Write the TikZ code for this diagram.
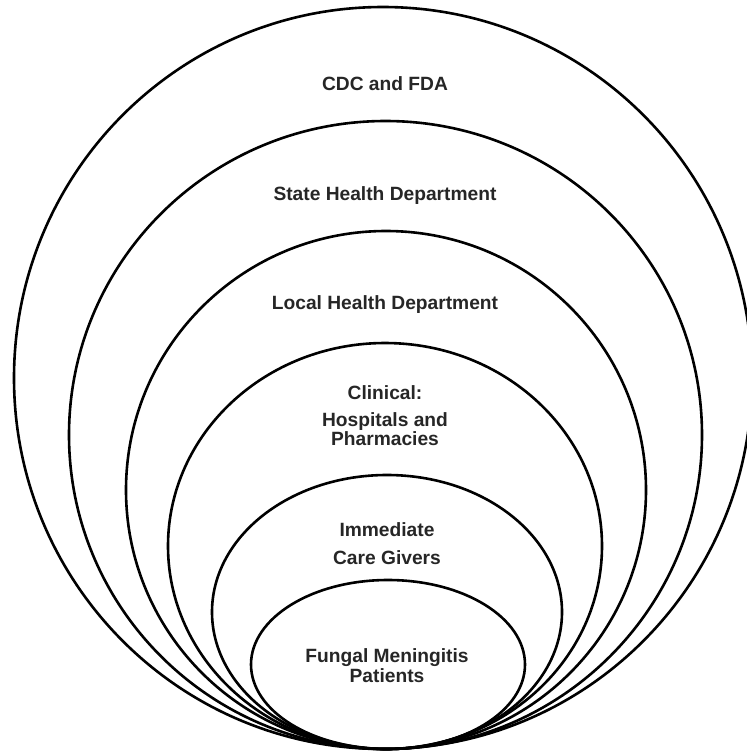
\documentclass[tikz,border=0pt]{standalone}
\usepackage{fontspec}
\setmainfont{Liberation Sans}
\begin{document}
\begin{tikzpicture}[x=1pt,y=-1pt,
  ring/.style={draw=black,line width=2.6pt},
  lbl/.style={anchor=base,inner sep=0pt,font=\fontsize{19.2}{20}\selectfont\bfseries,text=black!85}]
\useasboundingbox (0,0) rectangle (747,753);
\fill[white] (0,0) rectangle (747,753);
\draw[ring] (383,378) ellipse [x radius=369pt, y radius=371pt];
\draw[ring] (385.5,435) ellipse [x radius=316.5pt, y radius=314pt];
\draw[ring] (386,490) ellipse [x radius=260pt, y radius=259pt];
\draw[ring] (385,546) ellipse [x radius=217pt, y radius=203pt];
\draw[ring] (387,612) ellipse [x radius=175pt, y radius=137pt];
\draw[ring] (388,664.5) ellipse [x radius=137pt, y radius=84.5pt];
\node[lbl] (cdc) at (385,90) {CDC and FDA};
\node[lbl] (state) at (385,200) {State Health Department};
\node[lbl] (local) at (385,309) {Local Health Department};
\node[lbl] (clin) at (385,399) {Clinical:};
\node[lbl] (hosp) at (385,426) {Hospitals and};
\node[lbl] (pharm) at (385,445) {Pharmacies};
\node[lbl] (imm) at (387,536) {Immediate};
\node[lbl] (care) at (387,564) {Care Givers};
\node[lbl] (fung) at (387,662) {Fungal Meningitis};
\node[lbl] (pat) at (387,682) {Patients};
\end{tikzpicture}
\end{document}
